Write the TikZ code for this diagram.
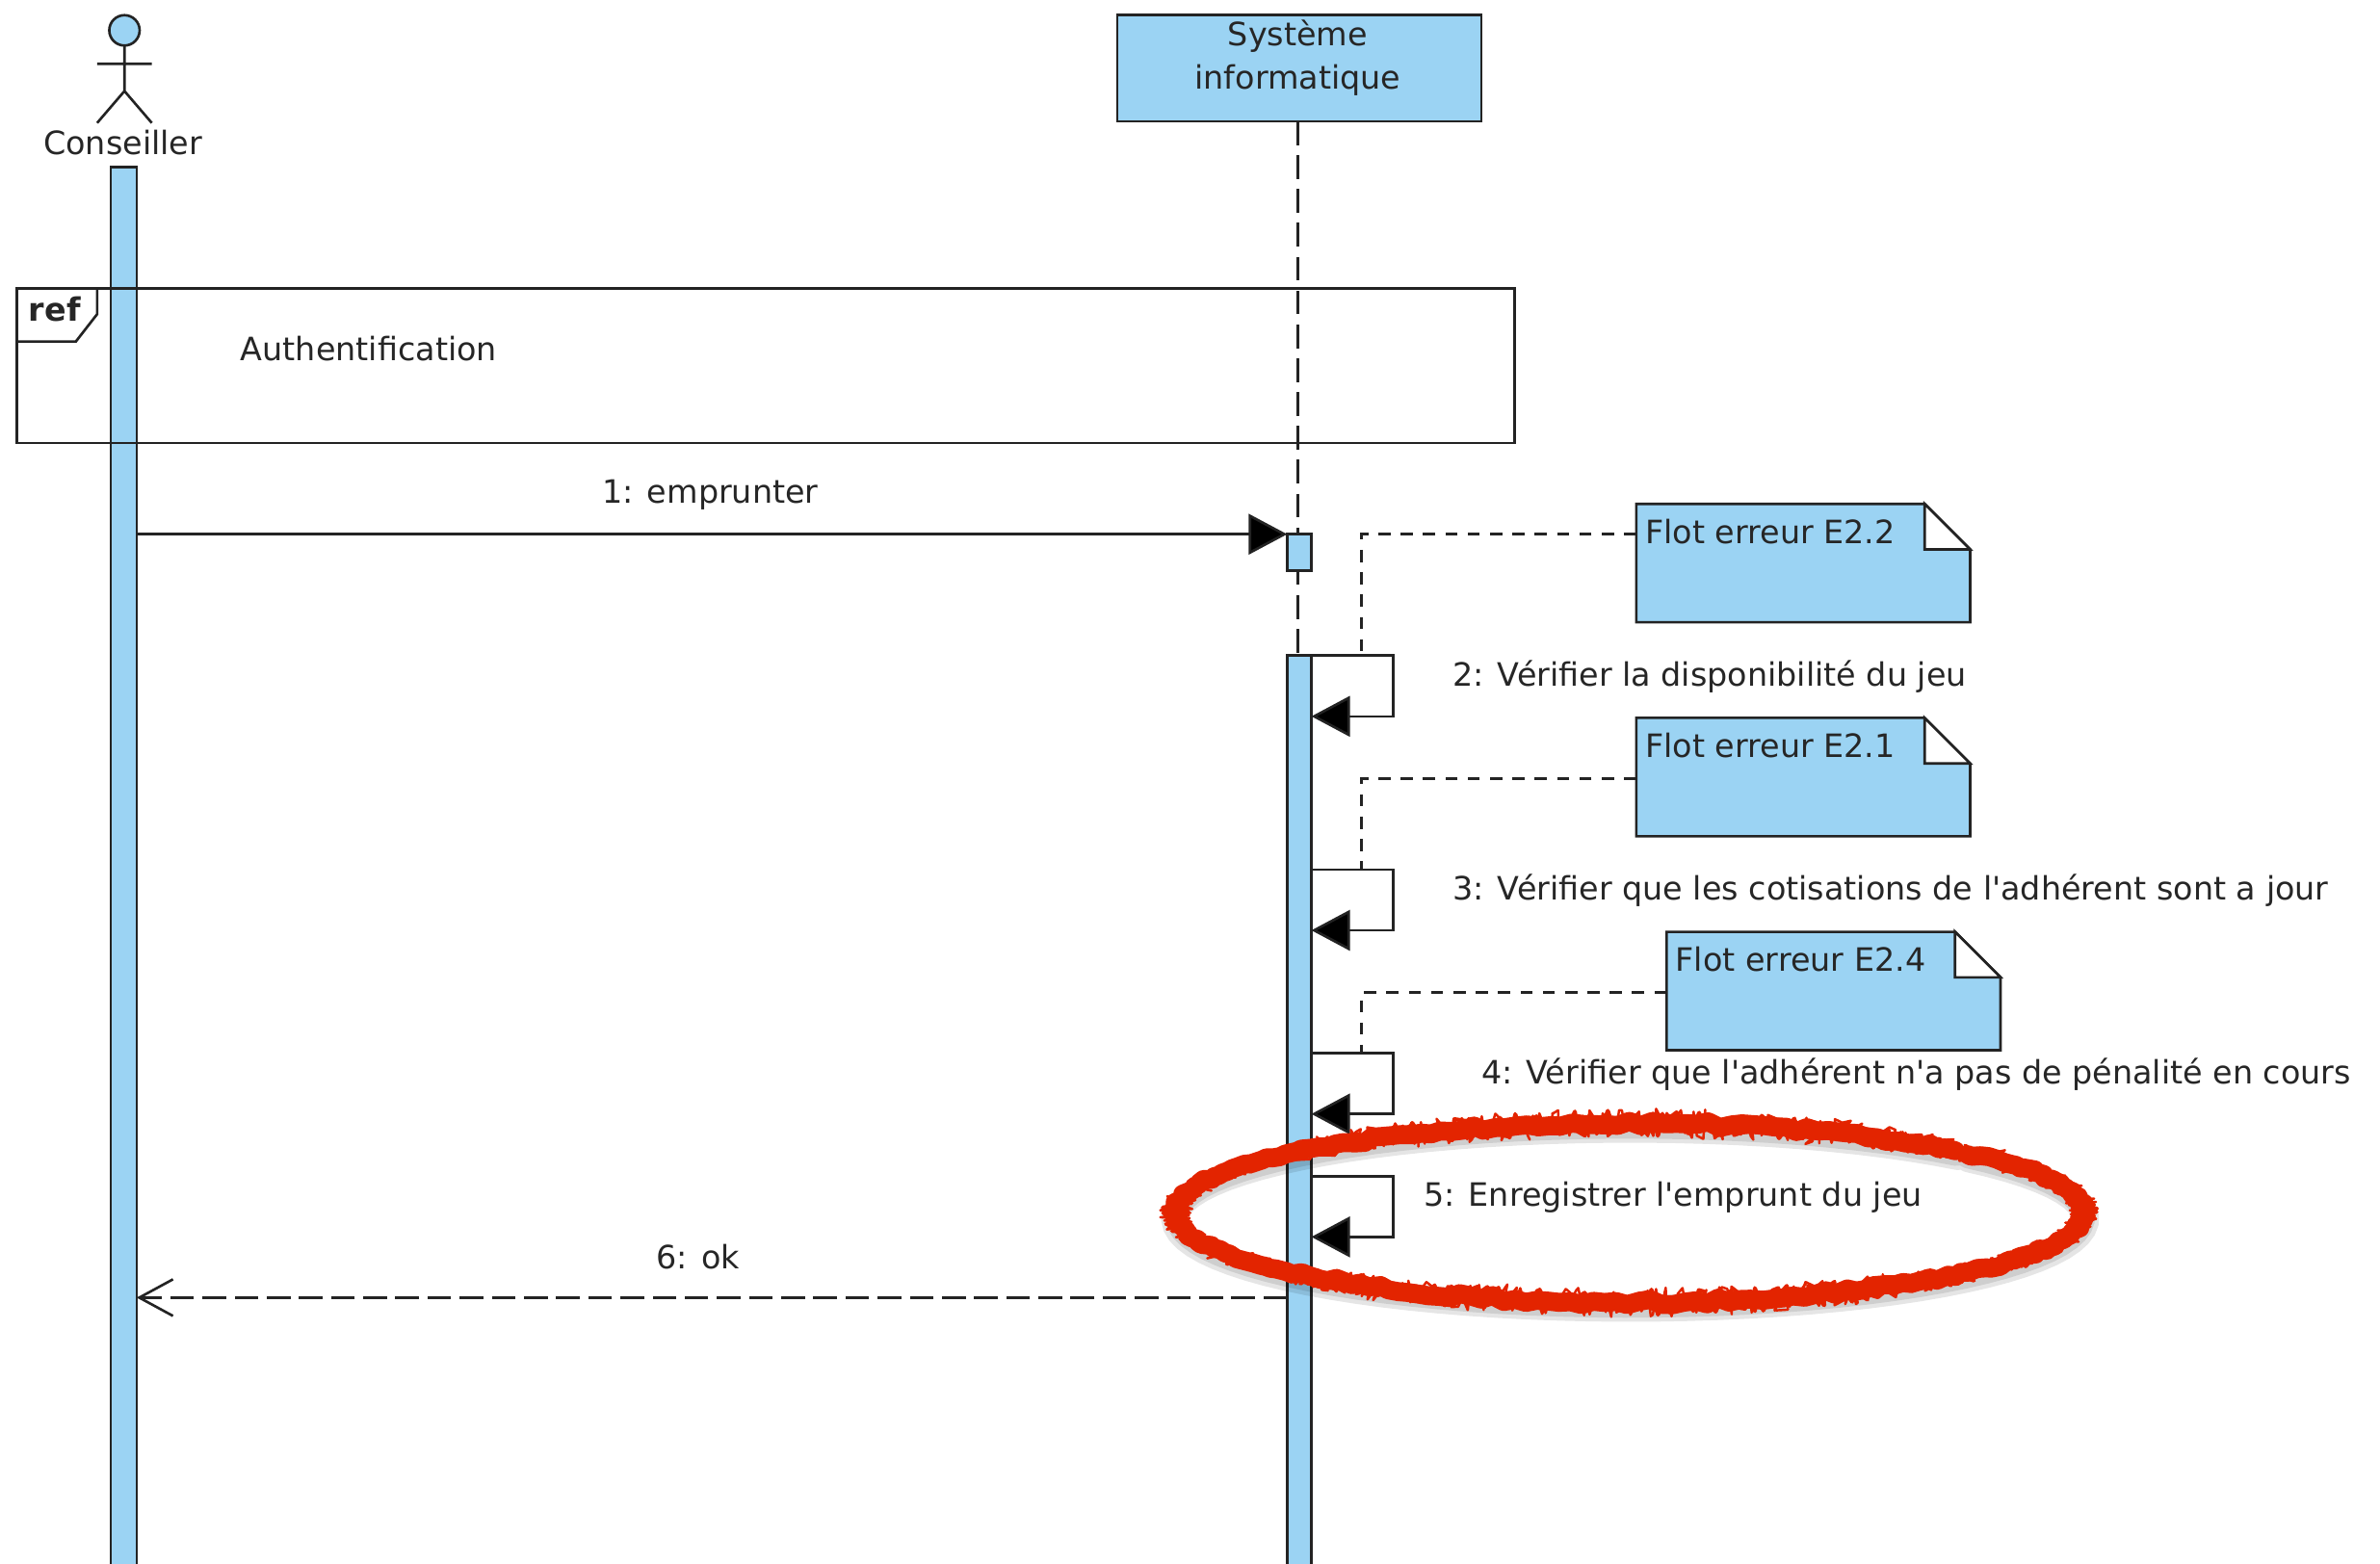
\documentclass[tikz,border=0pt]{standalone}
\usepackage{fontspec}
\setmainfont{DejaVu Sans}[Ligatures=TeXOff]
\usetikzlibrary{arrows.meta}
\definecolor{umlblue}{RGB}{155,211,243}
\definecolor{umlline}{RGB}{35,35,35}
\definecolor{markred}{RGB}{227,36,0}
\tikzset{
  x=0.01576cm,y=-0.01576cm,
  every node/.style={font=\fontsize{9.5}{11}\selectfont,text=black!85,inner sep=0pt,outer sep=0pt},
  umlstroke/.style={draw=umlline,line width=0.75pt},
  barbox/.style={umlstroke,fill=umlblue,rectangle,anchor=north,minimum width=17*0.01576cm},
  msgline/.style={umlstroke,-{Triangle[length=0.40cm,width=0.42cm,fill=black]}},
  retline/.style={umlstroke,dash pattern=on 7pt off 2.5pt,-{Straight Barb[length=0.35cm,width=0.38cm]}},
  lifeline/.style={umlstroke,dash pattern=on 7pt off 3pt},
  notelink/.style={umlstroke,dash pattern=on 3.6pt off 3pt},
  notefill/.style={umlstroke,fill=umlblue},
  foldfill/.style={umlstroke,fill=white},
  framebox/.style={umlstroke,rectangle,anchor=north west,minimum width=987*0.01576cm,minimum height=102*0.01576cm},
  notearea/.style={rectangle,anchor=north west,minimum width=220*0.01576cm,minimum height=78*0.01576cm},
  redstroke/.style={draw=markred,line cap=round,line join=round},
}
\newcommand{\notebox}[4]{%
  \draw[notefill] (#2,#3) -- ++(190,0) -- ++(30,30) -- ++(0,48) -- ++(-220,0) -- cycle;
  \draw[foldfill] (#2+190,#3) -- ++(30,30) -- ++(-30,0) -- cycle;
  \node[notearea] (#1) at (#2,#3) {};
  \node[anchor=base west] (#1text) at (#2+6,#3+26) {#4};
}
\newcommand{\selfcall}[2]{%
  \coordinate (#1a) at (864,#2);
  \coordinate (#1b) at (918,#2);
  \coordinate (#1c) at (918,#2+40);
  \coordinate (#1d) at (864,#2+40);
  \draw[msgline] (#1a) -- (#1b) -- (#1c) -- (#1d);
}
\begin{document}
\begin{tikzpicture}
\useasboundingbox (0,0) rectangle (1568,1030);

% actor
\node[circle,umlstroke,fill=umlblue,minimum size=20*0.01576cm] (head) at (82,20) {};
\coordinate (neck) at (82,60);
\coordinate (armL) at (64,42);
\coordinate (armR) at (100,42);
\coordinate (legL) at (64,81);
\coordinate (legR) at (100,81);
\draw[umlstroke] (head.south) -- (neck) (armL) -- (armR) (legL) -- (neck) -- (legR);
\node (conseiller) at (81,94) {Conseiller};

% system
\node[umlstroke,fill=umlblue,rectangle,anchor=north west,minimum width=240*0.01576cm,minimum height=70*0.01576cm] (sys) at (736,10) {};
\node (sysa) at (855,24) {Système};
\node (sysb) at (855,53) {informatique};

% lifeline
\coordinate (lifeend) at (855,432);
\draw[lifeline] (lifeend |- sys.south) -- (lifeend);

% reference frame
\node[framebox] (frame) at (11,190) {};
\draw[umlstroke] (11,225) -- (50,225) -- (64,207) -- (64,190);
\node[font=\fontsize{9.5}{11}\selectfont\bfseries] (reflabel) at (36,204) {ref};
\node (authlabel) at (243,230) {Authentification};

% activation bars
\path[fill=umlblue,draw=umlline,line width=0.75pt] (73,110) rectangle (90,1040);
\node[rectangle,anchor=north west,minimum width=17*0.01576cm,minimum height=920*0.01576cm] (left) at (73,110) {};
\draw[umlline,line width=0.75pt] (73,190) -- (90,190) (73,292) -- (90,292);
\node[barbox,minimum height=24*0.01576cm,minimum width=16*0.01576cm] (small) at (856,352) {};
\node[barbox,minimum height=610*0.01576cm,minimum width=16*0.01576cm] (long) at (856,432) {};

% message 1
\coordinate (m1a) at (90,352);
\draw[msgline] (m1a) -- (small.north west);
\node (m1) at (468,326) {1: emprunter};

% notes
\notebox{nA}{1078}{332}{Flot erreur E2.2}
\notebox{nB}{1078}{473}{Flot erreur E2.1}
\notebox{nC}{1098}{614}{Flot erreur E2.4}

% self calls
\selfcall{sB}{432}
\selfcall{sC}{573}
\selfcall{sD}{694}
\selfcall{sE}{775}
\node[anchor=base west] (l2) at (957,452) {2: Vérifier la disponibilité du jeu};
\node[anchor=base west] (l3) at (957,593) {3: Vérifier que les cotisations de l'adhérent sont a jour};
\node[anchor=base west] (l4) at (976,714) {4: Vérifier que l'adhérent n'a pas de pénalité en cours};
\node[anchor=base west] (l5) at (938,795) {5: Enregistrer l'emprunt du jeu};

% note links
\coordinate (kA) at (897,352);
\coordinate (eA) at (897,432);
\coordinate (kB) at (897,513);
\coordinate (eB) at (897,573);
\coordinate (kC) at (897,654);
\coordinate (eC) at (897,694);
\draw[notelink] (nA.west |- kA) -- (kA) -- (eA);
\draw[notelink] (nB.west |- kB) -- (kB) -- (eB);
\draw[notelink] (nC.west |- kC) -- (kC) -- (eC);

% return
\coordinate (r6a) at (848,855);
\coordinate (r6b) at (90,855);
\draw[retline] (r6a) -- (r6b);
\node (m6) at (460,828) {6: ok};

% red hand-drawn ellipse
\pgfmathsetseed{1234}
\draw[black,opacity=0.10,line width=8pt,line cap=round] plot[samples=90,domain=-42:316] ({1074+300*cos(\x)},{803+59*sin(\x)});
\draw[black,opacity=0.10,line width=6.5pt,line cap=round] plot[samples=90,domain=-42:316] ({1074+299*cos(\x)},{802+59*sin(\x)});
\draw[redstroke,line width=5.6pt] plot[samples=250,domain=-42:316] ({1073.5+(299+2.5*rand)*cos(\x)},{799+(59+2*rand)*sin(\x)});
\draw[redstroke,line width=0.7pt] plot[samples=1000,domain=-42:316] ({1073.5+(299+11*rand)*cos(\x)},{799+(59+10*rand)*sin(\x)});
\draw[redstroke,line width=1.2pt] plot[samples=500,domain=-42:316] ({1073.5+(299+9*rand)*cos(\x)},{799+(59+8.5*rand)*sin(\x)});
\end{tikzpicture}
\end{document}
